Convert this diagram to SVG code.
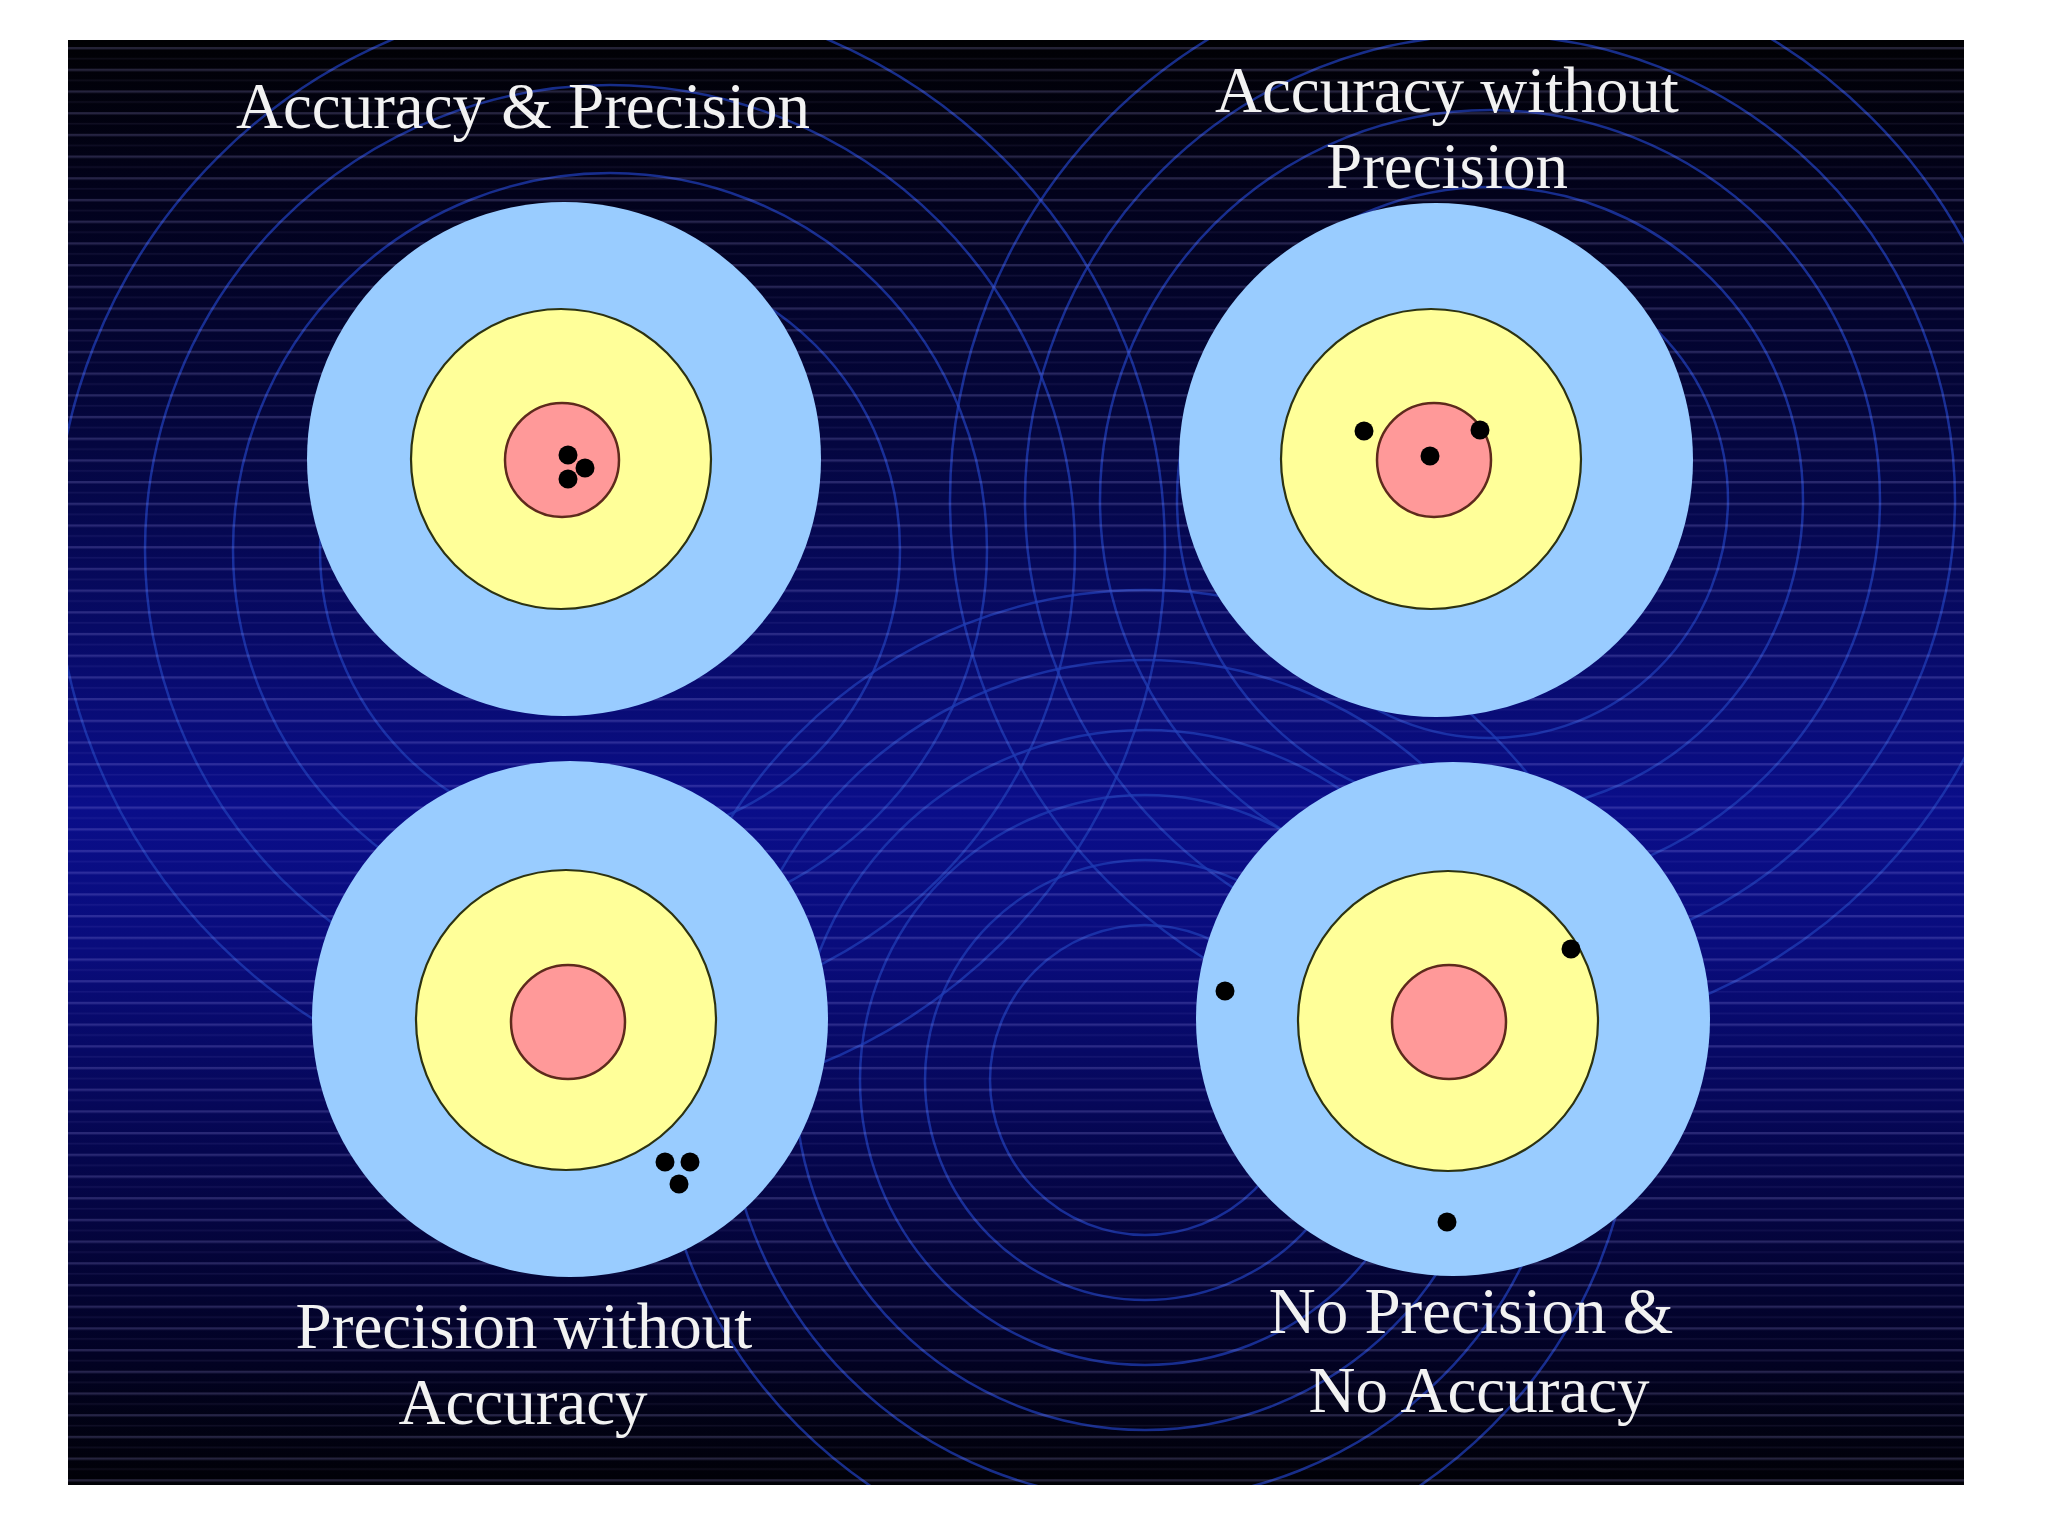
<svg xmlns="http://www.w3.org/2000/svg" width="2048" height="1536" viewBox="0 0 2048 1536">
  <defs>
    <linearGradient id="bg" x1="0" y1="40" x2="0" y2="1485" gradientUnits="userSpaceOnUse">
      <stop offset="0" stop-color="#010104"/>
      <stop offset="0.11" stop-color="#02021c"/>
      <stop offset="0.28" stop-color="#040640"/>
      <stop offset="0.53" stop-color="#0a0e8a"/>
      <stop offset="0.63" stop-color="#090c7c"/>
      <stop offset="0.77" stop-color="#05064e"/>
      <stop offset="0.91" stop-color="#020224"/>
      <stop offset="1" stop-color="#010106"/>
    </linearGradient>
    <pattern id="stripes" x="0" y="3.6" width="40" height="21.7" patternUnits="userSpaceOnUse">
      <rect x="0" y="0" width="40" height="2.4" fill="#b4aaff" fill-opacity="0.2"/>
      <rect x="0" y="10.8" width="40" height="1.6" fill="#b4aaff" fill-opacity="0.07"/>
    </pattern>
    <clipPath id="panelClip">
      <rect x="68" y="40" width="1896" height="1445"/>
    </clipPath>
    <style>
      .ring { fill: none; stroke: #1f3cb4; stroke-width: 2.5; stroke-opacity: 0.75; }
      .blue { fill: #99ccff; }
      .yellow { fill: #ffff99; stroke: #2c3212; stroke-width: 2.2; }
      .red { fill: #ff9999; stroke: #5e2a1c; stroke-width: 2.5; }
      .dot { fill: #000000; }
      .label { font-family: "Liberation Serif", "Times New Roman", serif; font-size: 65px; fill: #f2f2f2; text-anchor: middle; }
    </style>
  </defs>

  <rect x="0" y="0" width="2048" height="1536" fill="#ffffff"/>

  <g id="background">
    <rect x="68" y="40" width="1896" height="1445" fill="url(#bg)"/>
    <g clip-path="url(#panelClip)">
      <g id="rings-left">
        <circle class="ring" cx="610" cy="550" r="290"/>
        <circle class="ring" cx="610" cy="550" r="377"/>
        <circle class="ring" cx="610" cy="550" r="465"/>
        <circle class="ring" cx="610" cy="550" r="555"/>
      </g>
      <g id="rings-right">
        <circle class="ring" cx="1490" cy="500" r="238"/>
        <circle class="ring" cx="1490" cy="500" r="313"/>
        <circle class="ring" cx="1490" cy="500" r="390"/>
        <circle class="ring" cx="1490" cy="500" r="465"/>
        <circle class="ring" cx="1490" cy="500" r="540"/>
      </g>
      <g id="rings-bottom">
        <circle class="ring" cx="1145" cy="1080" r="155"/>
        <circle class="ring" cx="1145" cy="1080" r="220"/>
        <circle class="ring" cx="1145" cy="1080" r="285"/>
        <circle class="ring" cx="1145" cy="1080" r="350"/>
        <circle class="ring" cx="1145" cy="1080" r="420"/>
        <circle class="ring" cx="1145" cy="1080" r="490"/>
      </g>
    </g>
    <rect x="68" y="40" width="1896" height="1445" fill="url(#stripes)"/>
  </g>

  <g id="target-accuracy-precision">
    <circle class="blue" cx="564" cy="459" r="257"/>
    <circle class="yellow" cx="561" cy="459" r="150"/>
    <circle class="red" cx="562" cy="460" r="57"/>
    <circle class="dot" cx="568" cy="455" r="9.5"/>
    <circle class="dot" cx="585" cy="468" r="9.5"/>
    <circle class="dot" cx="568" cy="479" r="9.5"/>
  </g>

  <g id="target-accuracy-without-precision">
    <circle class="blue" cx="1436" cy="460" r="257"/>
    <circle class="yellow" cx="1431" cy="459" r="150"/>
    <circle class="red" cx="1434" cy="460" r="57"/>
    <circle class="dot" cx="1364" cy="431" r="9.5"/>
    <circle class="dot" cx="1480" cy="430" r="9.5"/>
    <circle class="dot" cx="1430" cy="456" r="9.5"/>
  </g>

  <g id="target-precision-without-accuracy">
    <circle class="blue" cx="570" cy="1019" r="258"/>
    <circle class="yellow" cx="566" cy="1020" r="150"/>
    <circle class="red" cx="568" cy="1022" r="57"/>
    <circle class="dot" cx="665" cy="1162" r="9.5"/>
    <circle class="dot" cx="690" cy="1162" r="9.5"/>
    <circle class="dot" cx="679" cy="1184" r="9.5"/>
  </g>

  <g id="target-no-precision-no-accuracy">
    <circle class="blue" cx="1453" cy="1019" r="257"/>
    <circle class="yellow" cx="1448" cy="1021" r="150"/>
    <circle class="red" cx="1449" cy="1022" r="57"/>
    <circle class="dot" cx="1225" cy="991" r="9.5"/>
    <circle class="dot" cx="1571" cy="949" r="9.5"/>
    <circle class="dot" cx="1447" cy="1222" r="9.5"/>
  </g>

  <g id="labels">
    <text class="label" x="523" y="128">Accuracy &amp; Precision</text>
    <text class="label" x="1447" y="112">Accuracy without</text>
    <text class="label" x="1447" y="188">Precision</text>
    <text class="label" x="524" y="1348">Precision without</text>
    <text class="label" x="523" y="1424">Accuracy</text>
    <text class="label" x="1471" y="1333">No Precision &amp;</text>
    <text class="label" x="1479" y="1412">No Accuracy</text>
  </g>
</svg>
